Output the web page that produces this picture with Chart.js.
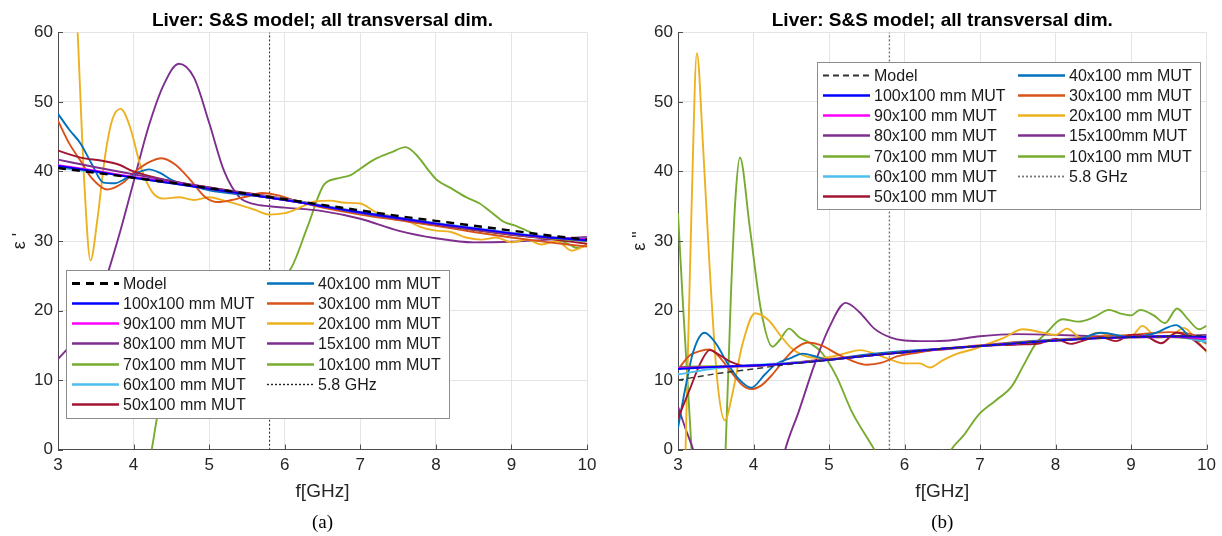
<!DOCTYPE html>
<html>
<head>
<meta charset="utf-8">
<title>Liver: S&amp;S model; all transversal dim.</title>
<script src="https://cdn.jsdelivr.net/npm/chart.js@4.4.1/dist/chart.umd.min.js"></script>
<style>
  html, body { margin: 0; padding: 0; background: #fff; }
  body { width: 1222px; height: 536px; position: relative; overflow: hidden; }
  .panel { position: absolute; top: 0; width: 611px; height: 536px; }
  #panelA { left: 0; }
  #panelB { left: 611px; }
</style>
</head>
<body>
<div class="panel" id="panelA"><canvas id="chartA" width="611" height="536"></canvas></div>
<div class="panel" id="panelB"><canvas id="chartB" width="611" height="536"></canvas></div>
<script>
// common frequency grid (GHz) for the model and the big MUTs
const fGrid = [3.0, 3.5, 4.0, 4.5, 5.0, 5.5, 6.0, 6.5, 7.0, 7.5, 8.0, 8.5, 9.0, 9.5, 10.0];
const marker = [5.8, 5.8];
const markerY = [0, 60];

// ---- (a) real part eps'
const reModel = [40.5, 39.8, 39.1, 38.4, 37.6, 36.8, 36.0, 35.2, 34.4, 33.6, 32.9, 32.2, 31.5, 30.8, 30.2];
const re100 = [40.8, 40.0, 39.1, 38.3, 37.5, 36.7, 35.9, 35.0, 34.1, 33.3, 32.5, 31.8, 31.1, 30.5, 30.1];
const re90 = [40.9, 40.1, 39.2, 38.4, 37.5, 36.7, 35.9, 35.0, 34.1, 33.3, 32.5, 31.8, 31.1, 30.5, 30.2];
const re80 = [41.7, 40.6, 39.6, 38.6, 37.7, 36.8, 35.9, 35.0, 34.1, 33.2, 32.4, 31.7, 31.0, 30.5, 30.3];
const re70 = [40.7, 40.0, 39.1, 38.3, 37.5, 36.7, 35.9, 35.0, 34.1, 33.3, 32.5, 31.7, 31.0, 30.4, 30.0];
const re60 = [40.5, 39.9, 39.2, 38.4, 37.6, 36.8, 36.0, 35.1, 34.2, 33.4, 32.6, 31.9, 31.2, 30.6, 30.3];

const fRe50 = [3.0, 3.3, 3.6, 3.8, 4.0, 4.5, 5.0, 5.5, 6.0, 6.5, 7.0, 7.5, 8.0, 8.5, 9.0, 9.5, 10.0];
const re50 = [43.0, 42.0, 41.5, 41.0, 40.0, 38.6, 37.7, 36.9, 36.1, 35.1, 34.1, 33.2, 32.4, 31.6, 30.9, 30.3, 29.6];

const fRe40 = [3.0, 3.15, 3.3, 3.45, 3.6, 3.75, 3.9, 4.05, 4.2, 4.35, 4.5, 4.75, 5.0, 5.5, 6.0, 6.5, 7.0, 7.5, 8.0, 8.5, 9.0, 9.5, 10.0];
const re40 = [48.3, 46.0, 44.0, 41.0, 38.4, 38.3, 39.0, 39.8, 40.3, 39.8, 38.8, 38.0, 37.3, 36.6, 36.0, 35.0, 34.0, 33.2, 32.4, 31.6, 30.9, 30.4, 30.0];

const fRe30 = [3.0, 3.15, 3.3, 3.45, 3.65, 3.85, 4.0, 4.2, 4.37, 4.55, 4.75, 4.95, 5.12, 5.3, 5.5, 5.7, 5.9, 6.2, 6.5, 7.0, 7.5, 8.0, 8.5, 9.0, 9.5, 10.0];
const re30 = [47.3, 44.0, 41.5, 39.0, 37.4, 38.3, 39.8, 41.3, 41.9, 41.0, 38.8, 36.3, 35.6, 35.9, 36.4, 36.9, 36.6, 35.6, 34.8, 33.8, 33.0, 32.2, 31.3, 30.5, 29.8, 29.2];

const fRe20 = [3.0, 3.13, 3.26, 3.35, 3.43, 3.52, 3.62, 3.72, 3.83, 3.95, 4.1, 4.25, 4.4, 4.6, 4.8, 5.0, 5.2, 5.4, 5.6, 5.79,
  6.0, 6.2, 6.4, 6.6, 6.8, 7.0, 7.2, 7.4, 7.6, 7.8, 8.0, 8.2, 8.4, 8.6, 8.8, 9.0, 9.2, 9.4, 9.6, 9.8, 10.0];
const re20 = [120, 90, 60, 38, 27.2, 33, 42, 47.5, 49.0, 46.5, 40.5, 37.0, 36.1, 36.3, 35.9, 36.3, 35.8, 35.2, 34.5, 33.8,
  34.0, 34.8, 35.7, 35.8, 35.5, 35.4, 34.2, 33.6, 33.0, 32.0, 31.5, 31.3, 30.5, 30.2, 30.5, 29.8, 30.2, 29.5, 30.0, 28.6, 29.5];

const fRe15 = [3.0, 3.2, 3.4, 3.6, 3.8, 4.0, 4.2, 4.4, 4.6, 4.8, 5.0, 5.2, 5.4, 5.6, 5.8, 6.0, 6.5, 7.0, 7.5, 8.0, 8.5, 9.0, 9.5, 10.0];
const re15 = [13.0, 15.5, 19.0, 23.5, 30.5, 38.5, 46.5, 52.5, 55.5, 53.5, 47.0, 40.0, 36.3, 35.3, 35.0, 34.8, 34.3, 33.2, 31.5, 30.4, 29.8, 29.9, 30.2, 30.6];

const fRe10 = [3.0, 3.5, 4.0, 4.24, 4.32, 4.6, 5.0, 5.5, 6.08, 6.3, 6.52, 6.7, 6.88, 7.0, 7.2, 7.4, 7.6, 7.75, 7.9, 8.01,
  8.2, 8.4, 8.58, 8.75, 8.89, 9.05, 9.2, 9.4, 9.6, 9.75, 9.87, 10.0];
const re10 = [-60, -40, -12, 0, 5, 11, 16, 21, 26, 32, 38.1, 39.0, 39.5, 40.4, 41.8, 42.7, 43.5, 42.3, 40.2, 38.8,
  37.6, 36.3, 35.4, 34.0, 32.8, 32.2, 31.5, 30.6, 30.2, 29.6, 29.0, 29.4];

// ---- (b) imaginary part eps''
const imModel = [10.0, 10.9, 11.6, 12.3, 12.9, 13.5, 14.0, 14.5, 14.9, 15.3, 15.7, 16.0, 16.2, 16.3, 16.4];
const im100 = [11.6, 11.9, 12.1, 12.4, 12.9, 13.5, 14.0, 14.5, 14.9, 15.3, 15.7, 16.0, 16.2, 16.3, 16.2];
const im90 = [11.7, 11.9, 12.1, 12.4, 12.9, 13.5, 14.0, 14.5, 14.9, 15.3, 15.7, 16.0, 16.2, 16.3, 16.0];
const im80 = [11.8, 11.9, 12.0, 12.4, 12.9, 13.5, 14.0, 14.5, 14.9, 15.3, 15.7, 16.0, 16.1, 16.2, 15.9];
const im70 = [11.9, 12.0, 12.1, 12.4, 12.9, 13.5, 14.0, 14.5, 14.9, 15.3, 15.7, 16.0, 16.2, 16.2, 16.0];
const im60 = [10.8, 11.7, 12.2, 12.5, 12.9, 13.5, 14.0, 14.5, 14.9, 15.3, 15.7, 16.0, 16.2, 16.3, 15.5];

const fIm50 = [3.0, 3.15, 3.3, 3.42, 3.55, 3.7, 3.9, 4.1, 4.4, 4.7, 5.0, 5.5, 6.0, 6.5, 7.0, 7.5, 7.8, 8.0, 8.2, 8.4,
  8.6, 8.8, 9.0, 9.2, 9.4, 9.6, 9.8, 10.0];
const im50 = [4.5, 8.5, 12.5, 14.3, 13.6, 12.6, 12.0, 12.1, 12.4, 12.7, 13.0, 13.5, 14.0, 14.4, 14.9, 15.1, 15.3, 15.9, 15.2, 15.8,
  16.2, 15.6, 16.5, 16.3, 15.3, 16.8, 16.0, 14.2];

const fIm40 = [3.0, 3.1, 3.2, 3.35, 3.5, 3.65, 3.8, 3.97, 4.15, 4.3, 4.5, 4.65, 4.85, 5.0, 5.3, 5.6, 6.0, 6.5, 7.0, 7.5,
  8.0, 8.3, 8.6, 9.0, 9.3, 9.6, 9.8, 10.0];
const im40 = [3.1, 9.0, 14.0, 16.8, 15.3, 12.5, 10.2, 8.9, 10.8, 12.3, 13.2, 13.8, 13.3, 12.9, 13.4, 13.8, 14.2, 14.5, 14.9, 15.4,
  15.8, 15.9, 16.8, 16.2, 16.7, 17.9, 16.0, 15.5];

const fIm30 = [3.0, 3.15, 3.3, 3.42, 3.55, 3.7, 3.85, 3.97, 4.1, 4.25, 4.4, 4.55, 4.72, 4.9, 5.1, 5.3, 5.5, 5.7, 5.9, 6.2,
  6.5, 7.0, 7.5, 8.0, 8.5, 9.0, 9.5, 9.8, 10.0];
const im30 = [11.5, 13.5, 14.2, 14.4, 13.3, 11.2, 9.3, 8.7, 9.2, 10.8, 12.8, 14.5, 15.4, 15.0, 13.8, 12.8, 12.2, 12.5, 13.4, 14.0,
  14.5, 15.0, 15.5, 15.8, 16.2, 16.5, 16.9, 16.6, 15.2];

const fIm20 = [3.0, 3.1, 3.18, 3.25, 3.33, 3.42, 3.52, 3.62, 3.72, 3.85, 4.02, 4.2, 4.35, 4.5, 4.65, 4.8, 5.0, 5.2, 5.41, 5.6,
  5.8, 6.0, 6.2, 6.34, 6.5, 6.7, 6.9, 7.1, 7.3, 7.57, 7.8, 8.0, 8.15, 8.35, 8.55, 8.75, 9.0, 9.15, 9.35, 9.55, 9.7, 9.85, 10.0];
const im20 = [-40, 0, 35, 57, 44, 26, 10, 4.2, 8, 15, 19.6, 18.6, 16.5, 14.6, 13.6, 13.2, 13.3, 13.8, 14.3, 13.8,
  13.0, 12.4, 12.4, 11.8, 12.8, 13.8, 14.4, 15.2, 16.0, 17.3, 16.9, 16.5, 17.4, 16.0, 16.8, 16.4, 16.3, 17.8, 16.1, 16.5, 17.5, 16.0, 14.0];

const fIm15 = [3.0, 3.1, 3.2, 3.5, 4.0, 4.42, 4.6, 4.8, 5.0, 5.22, 5.4, 5.6, 5.82, 6.0, 6.3, 6.6, 7.0, 7.5, 8.0, 8.5, 9.0, 9.5, 10.0];
const im15 = [6.2, 3.0, 0, -12, -20, 0, 5.5, 12, 17.5, 21.1, 19.8, 17.4, 16.1, 15.7, 15.6, 15.7, 16.3, 16.6, 16.5, 16.3, 16.2, 16.3, 16.5];

const fIm10 = [3.0, 3.06, 3.18, 3.35, 3.5, 3.63, 3.7, 3.76, 3.82, 3.95, 4.1, 4.25, 4.35, 4.47, 4.6, 4.75, 4.9, 5.1, 5.3, 5.6,
  6.0, 6.4, 6.62, 6.78, 6.98, 7.2, 7.42, 7.57, 7.73, 7.88, 8.09, 8.3, 8.5, 8.71, 8.85, 9.0, 9.12, 9.3, 9.45, 9.61, 9.75, 9.9, 10.0];
const im10 = [34, 22, 0, -30, -20, 0, 22, 36, 42, 32, 20, 14.8, 15.8, 17.4, 16.2, 15.3, 14.0, 10.5, 5.5, 0,
  -8, -5, 0, 2.0, 5.0, 7.0, 9.1, 12.0, 15.1, 16.8, 18.75, 18.4, 19.0, 20.1, 19.6, 19.3, 20.1, 19.3, 18.2, 20.3, 18.8, 17.3, 17.8];

const FONT = '"Liberation Sans", Arial, Helvetica, sans-serif';
const AXIS = '#4d4d4d';
const TEXT = '#262626';

function pts(fs, vs) {
    return fs.map((f, i) => ({ x: f, y: vs[i] }));
}

function line(label, color, fs, vs, extra) {
    return Object.assign({
        label: label,
        borderColor: color,
        backgroundColor: color,
        borderWidth: 1.9,
        fill: false,
        data: pts(fs, vs)
    }, extra || {});
}

// small ticks pointing into the plot, like the matlab axes
const innerTicks = {
    id: 'innerTicks',
    afterDatasetsDraw(chart) {
        const { ctx, chartArea: a, scales: { x, y } } = chart;
        ctx.save();
        ctx.strokeStyle = AXIS;
        ctx.lineWidth = 1;
        ctx.beginPath();
        x.ticks.forEach(t => {
            const px = Math.round(x.getPixelForValue(t.value)) + 0.5;
            ctx.moveTo(px, a.bottom);
            ctx.lineTo(px, a.bottom - 5);
        });
        y.ticks.forEach(t => {
            const py = Math.round(y.getPixelForValue(t.value)) + 0.5;
            ctx.moveTo(a.left, py);
            ctx.lineTo(a.left + 5, py);
        });
        ctx.stroke();
        ctx.restore();
    }
};

// two column legend in a white box, filled column by column
const boxLegend = {
    id: 'boxLegend',
    afterDraw(chart, args, opts) {
        const { ctx } = chart;
        const items = chart.data.datasets;
        const rows = Math.ceil(items.length / 2);
        ctx.save();
        ctx.fillStyle = '#fff';
        ctx.fillRect(opts.left, opts.top, opts.width, opts.height);
        ctx.strokeStyle = '#8c8c8c';
        ctx.lineWidth = 1;
        ctx.strokeRect(opts.left + 0.5, opts.top + 0.5, opts.width, opts.height);
        ctx.font = '16px ' + FONT;
        ctx.textBaseline = 'middle';
        ctx.textAlign = 'left';
        items.forEach((ds, i) => {
            const col = Math.floor(i / rows);
            const row = i % rows;
            const x0 = opts.left + 6 + col * 195;
            const yy = Math.round(opts.top + 12.5 + row * 20.3) + 0.5;
            ctx.strokeStyle = ds.borderColor;
            ctx.lineWidth = ds.borderWidth + 0.4;
            ctx.setLineDash(ds.borderDash || []);
            ctx.beginPath();
            ctx.moveTo(x0, yy);
            ctx.lineTo(x0 + 47, yy);
            ctx.stroke();
            ctx.setLineDash([]);
            ctx.fillStyle = '#1a1a1a';
            ctx.fillText(ds.label, x0 + 51, yy + 1);
        });
        ctx.restore();
    }
};

function buildChart(id, cfg) {
    return new Chart(document.getElementById(id), {
        type: 'line',
        data: { datasets: cfg.datasets },
        options: {
            responsive: false,
            animation: false,
            events: [],
            layout: { padding: { left: 0, right: cfg.padRight, top: 0, bottom: 1.6 } },
            elements: {
                point: { radius: 0 },
                line: { cubicInterpolationMode: 'monotone' }
            },
            scales: {
                x: {
                    type: 'linear',
                    min: 3,
                    max: 10,
                    ticks: { stepSize: 1, padding: 6, color: TEXT, font: { family: FONT, size: 17 } },
                    grid: { color: '#e4e4e4', drawTicks: false },
                    border: { color: AXIS },
                    title: {
                        display: true,
                        text: 'f[GHz]',
                        color: TEXT,
                        font: { family: FONT, size: 19 },
                        padding: { top: 0, bottom: 8 }
                    },
                    afterFit: s => { s.height = 62; }
                },
                y: {
                    min: 0,
                    max: 60,
                    ticks: { stepSize: 10, padding: 5, color: TEXT, font: { family: FONT, size: 17 } },
                    grid: { color: '#e4e4e4', drawTicks: false },
                    border: { color: AXIS },
                    title: {
                        display: true,
                        text: cfg.yTitle,
                        color: TEXT,
                        font: { family: FONT, size: 18 },
                        padding: { top: cfg.yTitlePad, bottom: 0 }
                    },
                    afterFit: s => { s.width = cfg.axisLeft; }
                }
            },
            plugins: {
                legend: { display: false },
                tooltip: { enabled: false },
                title: {
                    display: true,
                    text: 'Liver: S&S model; all transversal dim.',
                    fullSize: false,
                    color: '#000',
                    font: { family: FONT, size: 19, weight: 'bold' },
                    padding: { top: 9.6, bottom: 0 }
                },
                subtitle: {
                    display: true,
                    position: 'bottom',
                    text: cfg.caption,
                    fullSize: false,
                    color: '#000',
                    font: { family: '"Liberation Serif", "Times New Roman", serif', size: 19 },
                    padding: 0
                },
                boxLegend: cfg.legend
            }
        },
        plugins: [innerTicks, boxLegend]
    });
}

const C = {
    m100: '#0000ff', m90: '#ff00ff', m80: '#7e2f8e', m70: '#77ac30', m60: '#4dbeee', m50: '#a2142f',
    m40: '#0072bd', m30: '#d95319', m20: '#edb120', m15: '#7e2f8e', m10: '#77ac30'
};

buildChart('chartA', {
    caption: '(a)',
    yTitle: "\u03b5 '",
    yTitlePad: 9,
    axisLeft: 58,
    padRight: 24,
    legend: { left: 66, top: 270, width: 383, height: 148 },
    datasets: [
        line('Model', '#000', fGrid, reModel, { borderWidth: 2.4, borderDash: [8, 6] }),
        line('100x100 mm MUT', C.m100, fGrid, re100),
        line('90x100 mm MUT', C.m90, fGrid, re90),
        line('80x100 mm MUT', C.m80, fGrid, re80),
        line('70x100 mm MUT', C.m70, fGrid, re70),
        line('60x100 mm MUT', C.m60, fGrid, re60),
        line('50x100 mm MUT', C.m50, fRe50, re50),
        line('40x100 mm MUT', C.m40, fRe40, re40),
        line('30x100 mm MUT', C.m30, fRe30, re30),
        line('20x100 mm MUT', C.m20, fRe20, re20),
        line('15x100 mm MUT', C.m15, fRe15, re15),
        line('10x100 mm MUT', C.m10, fRe10, re10),
        line('5.8 GHz', '#222', marker, markerY, { borderWidth: 1, borderDash: [2, 2] })
    ]
});

buildChart('chartB', {
    caption: '(b)',
    yTitle: '\u03b5 "',
    yTitlePad: 18,
    axisLeft: 67,
    padRight: 15,
    legend: { left: 206, top: 62, width: 383, height: 147 },
    datasets: [
        line('Model', '#333', fGrid, imModel, { borderWidth: 1.4, borderDash: [6, 4] }),
        line('100x100 mm MUT', C.m100, fGrid, im100),
        line('90x100 mm MUT', C.m90, fGrid, im90),
        line('80x100 mm MUT', C.m80, fGrid, im80),
        line('70x100 mm MUT', C.m70, fGrid, im70),
        line('60x100 mm MUT', C.m60, fGrid, im60),
        line('50x100 mm MUT', C.m50, fIm50, im50),
        line('40x100 mm MUT', C.m40, fIm40, im40),
        line('30x100 mm MUT', C.m30, fIm30, im30),
        line('20x100 mm MUT', C.m20, fIm20, im20),
        line('15x100mm MUT', C.m15, fIm15, im15),
        line('10x100 mm MUT', C.m10, fIm10, im10),
        line('5.8 GHz', '#777', marker, markerY, { borderWidth: 1.4, borderDash: [2, 2] })
    ]
});
</script>
</body>
</html>
